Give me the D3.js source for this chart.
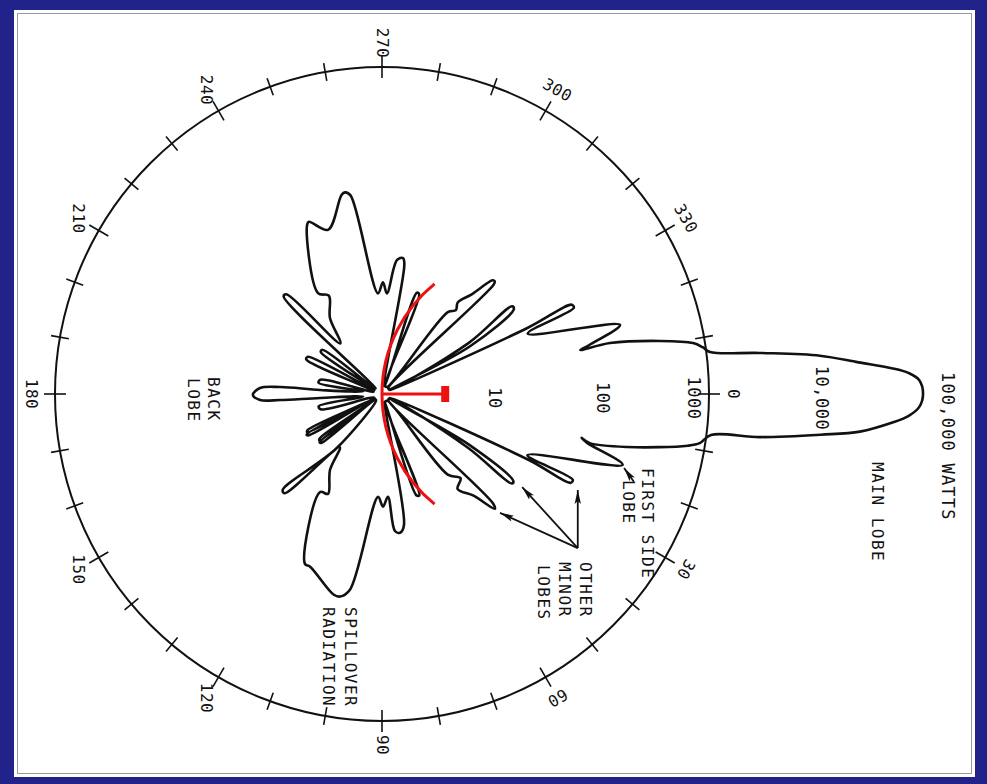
<!DOCTYPE html>
<html><head><meta charset="utf-8">
<script src="https://cdn.jsdelivr.net/npm/d3@7"></script>
<style>
html,body{margin:0;padding:0;background:#22228b;}
svg{display:block;}
</style></head>
<body><svg id="chart" width="987" height="784"></svg>
<script>
// ---------------- DATA ----------------
// azimuth angles (degrees, clockwise from the main-beam direction) and radiated power (watts, log scale)
const angleTicks = d3.range(0, 360, 10);
const angleLabels = [0, 30, 60, 90, 120, 150, 180, 210, 240, 270, 300, 330];
const radialValues = [10, 100, 1000, 10000];
const radialLabels = ["10", "100", "1000", "10,000"];
const peakLabel = "100,000 WATTS";
const peakValue = 100000;

const mainLobeLower = [[0,92000],[1.4,85000],[2.4,68000],[3.2,49000],[4.5,25000],[5.3,11000],[6.5,3100],[7.1,1100],[8.8,890],[9.6,700],[12.2,200],[13.3,91],[12.4,75]];
const lowerMinorLobes = [[13.4,86],[16.4,200],[22.8,28],[24.2,83],[25.2,82],[24.2,30],[27,1.2],[29,1.2],[30.2,8.3],[33.6,28],[34.6,28],[32,8.5],[33,1.2],[44,1.2],[44.6,27],[45.5,30],[48,18],[51.5,13],[47,11.4],[50.8,9],[52,1.2],[68.5,1.2],[69.8,9.8],[71.2,9.6],[72,1.2]];
const lowerSpillover = [[74,1.2],[80.5,16.6],[82.6,19.2],[84.6,18.3],[86.7,8.8],[89.5,10.8],[92.2,8.8],[99.3,66],[101.7,79],[103.6,78],[112.6,52],[114.4,51.5],[122.3,11.6],[118.4,11],[124.4,7],[128.4,4.2],[134.5,18.9],[136,18.5],[130,4.5],[133,1.2]];
const backLobes = [[139.5,1.2],[141.2,5.2],[142.2,5.3],[142.8,1.6],[143.4,5.2],[144.6,5],[146,1.2],[149,1.2],[150.8,6],[151.8,6.1],[152.4,1.8],[153,5.9],[154.2,5.7],[156,1.2],[166,3.8],[169,3.9],[172,1.5],[176.3,3.7],[176.6,8.6],[177.2,13.2],[179.6,15.3],[182.8,13.2],[183.9,8.6],[183.7,3.7],[188,1.5],[190,3.9],[193,3.8],[196,1.2],[204.5,5.8],[206.5,5.8],[209,1.2],[214.5,4.8],[216.5,4.8],[219,1.2]];
const upperSpillover = [[222,1.2],[224.8,18.7],[226.2,18.5],[230.5,4],[235.6,7],[241.6,10.6],[237.6,12.5],[246.1,49.7],[247,52],[251.8,38.5],[258.5,73],[259.6,76],[261,70],[267.7,8.4],[270.5,10.6],[272.8,8.4],[276.4,17.3],[278.8,18.3],[279.8,16],[284,1.2]];
const upperMinorLobes = [[288,1.2],[289,9.6],[290.4,9.5],[292,1.2],[306,1.2],[308.8,9.2],[311.4,10.6],[309.6,12.3],[312,17],[314.2,28.5],[315,29],[315.6,27],[316,1.2],[326.5,1.2],[329.5,8.4],[326,27.5],[327.2,27.5],[331.5,8.3],[332,1.2],[333,1.2],[335.6,28.5],[334.8,84],[335.8,85],[337.5,28],[343.8,188],[346.7,90],[347.5,73]];
const mainLobeUpper = [[347.4,139],[349.2,396],[350.7,780],[351.7,940],[352.7,1080],[353.8,3070],[355,10800],[356.2,24000],[357.1,48000],[357.7,68000],[358.5,85000]];

// annotation arrows: [angle, watts] from -> to
const minorLobeArrowFrom = [38.2, 193];
const minorLobeArrowTo = [[26.1, 100], [33.6, 35], [45.2, 34.4]];
const sideLobeArrow = [[19.2, 280], [17, 210]];
// feed / reflector overlay (red)
const reflectorCenterWatts = 20;
const reflectorHalfSpan = 51;
const feedArmWatts = 3.8;

const annotations = [
  {text: "MAIN LOBE", x: 877, y: 462},
  {text: "FIRST SIDE", x: 647, y: 468},
  {text: "LOBE", x: 628, y: 480},
  {text: "OTHER", x: 585, y: 562},
  {text: "MINOR", x: 564, y: 562},
  {text: "LOBES", x: 543, y: 565},
  {text: "BACK", x: 213, y: 377},
  {text: "LOBE", x: 193, y: 378},
  {text: "SPILLOVER", x: 350, y: 607},
  {text: "RADIATION", x: 328, y: 607}
];

// ---------------- DRAW ----------------
const svg = d3.select("#chart");
const cx = 382, cy = 394;
const r = d3.scaleLog().domain([1, 1000]).range([0, 327]);
const R = r(1000);
const rad = a => a * Math.PI / 180;
const xy = (a, w) => [cx + r(w) * Math.cos(rad(a)), cy + r(w) * Math.sin(rad(a))];

svg.append("rect").attr("x", 14).attr("y", 10).attr("width", 961).attr("height", 767).attr("fill", "#fff");
svg.append("rect").attr("x", 17.5).attr("y", 13.5).attr("width", 954).attr("height", 760)
  .attr("fill", "none").attr("stroke", "#9a9a9a").attr("stroke-width", 1);

const g = svg.append("g");
const mono = "'DejaVu Sans Mono', 'Liberation Mono', monospace";

// outer circle (1000 W)
g.append("circle").attr("cx", cx).attr("cy", cy).attr("r", R)
  .attr("fill", "none").attr("stroke", "#111").attr("stroke-width", 2);

// ticks
g.selectAll("line.tick").data(angleTicks).join("line")
  .attr("x1", d => cx + (R - (d % 30 === 0 ? 11 : 9)) * Math.cos(rad(d)))
  .attr("y1", d => cy + (R - (d % 30 === 0 ? 11 : 9)) * Math.sin(rad(d)))
  .attr("x2", d => cx + (R + (d % 30 === 0 ? 11 : 9)) * Math.cos(rad(d)))
  .attr("y2", d => cy + (R + (d % 30 === 0 ? 11 : 9)) * Math.sin(rad(d)))
  .attr("stroke", "#111").attr("stroke-width", 1.6);

// angle labels
const labelRot = {0:90, 30:120, 60:150, 300:30, 330:60};
g.selectAll("text.ang").data(angleLabels).join("text")
  .attr("transform", d => {
    const rr = R + 24;
    return `translate(${cx + rr * Math.cos(rad(d))},${cy + rr * Math.sin(rad(d))}) rotate(${labelRot[d] !== undefined ? labelRot[d] : 90})`;
  })
  .attr("text-anchor", "middle").attr("dominant-baseline", "central")
  .attr("font-family", mono).attr("font-size", 16).attr("letter-spacing", 0.5)
  .attr("fill", "#111").text(d => d);

// radial labels along the main beam
const radialOffset = {10: 4, 100: 3, 1000: -15, 10000: 4};
g.selectAll("text.rad").data(radialValues).join("text")
  .attr("transform", d => `translate(${cx + r(d) + radialOffset[d]},${cy + 4}) rotate(90)`)
  .attr("text-anchor", "middle").attr("dominant-baseline", "central")
  .attr("font-family", mono).attr("font-size", 17).attr("letter-spacing", 0.5)
  .attr("fill", "#111").text((d, i) => radialLabels[i]);
g.append("text")
  .attr("transform", `translate(${cx + r(peakValue) + 21},${cy - 22}) rotate(90)`)
  .attr("text-anchor", "start").attr("dominant-baseline", "central")
  .attr("font-family", mono).attr("font-size", 17).attr("letter-spacing", 1.2)
  .attr("fill", "#111").text(peakLabel);

// radiation pattern
const pattern = [].concat(mainLobeLower, lowerMinorLobes, lowerSpillover, backLobes, upperSpillover, upperMinorLobes, mainLobeUpper);
const line = d3.lineRadial()
  .angle(d => rad(d[0] + 90))
  .radius(d => r(d[1]))
  .curve(d3.curveCatmullRomClosed.alpha(0.5));
g.append("path").attr("transform", `translate(${cx},${cy})`)
  .attr("d", line(pattern))
  .attr("fill", "none").attr("stroke", "#111").attr("stroke-width", 2.6)
  .attr("stroke-linejoin", "round");

// arrows
const defs = svg.append("defs");
defs.append("marker").attr("id", "ah").attr("markerUnits", "userSpaceOnUse")
  .attr("markerWidth", 16).attr("markerHeight", 8).attr("refX", 14).attr("refY", 4)
  .attr("orient", "auto")
  .append("path").attr("d", "M0,0.8 L14,4 L0,7.2 L3,4 Z").attr("fill", "#111");
const from = xy(...minorLobeArrowFrom);
minorLobeArrowTo.forEach(t => {
  const to = xy(...t);
  g.append("line").attr("x1", from[0]).attr("y1", from[1]).attr("x2", to[0]).attr("y2", to[1])
    .attr("stroke", "#111").attr("stroke-width", 1.8).attr("marker-end", "url(#ah)");
});
{
  const a = xy(...sideLobeArrow[0]), b = xy(...sideLobeArrow[1]);
  g.append("line").attr("x1", a[0]).attr("y1", a[1]).attr("x2", b[0]).attr("y2", b[1])
    .attr("stroke", "#111").attr("stroke-width", 1.8).attr("marker-end", "url(#ah)");
}

// annotations
g.selectAll("text.ann").data(annotations).join("text")
  .attr("transform", d => `translate(${d.x},${d.y}) rotate(90)`)
  .attr("text-anchor", "start").attr("dominant-baseline", "central")
  .attr("font-family", mono).attr("font-size", 16).attr("letter-spacing", 1.5)
  .attr("fill", "#111").text(d => d.text);

// red reflector arc and feed arm
{
  const c = xy(0, reflectorCenterWatts);
  const rr = r(reflectorCenterWatts);
  const p = d3.path();
  p.arc(c[0], c[1], rr, rad(180 - reflectorHalfSpan), rad(180 + reflectorHalfSpan), false);
  g.append("path").attr("d", p.toString()).attr("fill", "none").attr("stroke", "#ee1111").attr("stroke-width", 3);
  const e = xy(0, feedArmWatts);
  g.append("line").attr("x1", cx).attr("y1", cy).attr("x2", e[0]).attr("y2", e[1])
    .attr("stroke", "#ee1111").attr("stroke-width", 3);
  g.append("rect").attr("x", e[0] - 4).attr("y", e[1] - 8).attr("width", 8).attr("height", 16).attr("fill", "#ee1111");
}
</script>
</body></html>
